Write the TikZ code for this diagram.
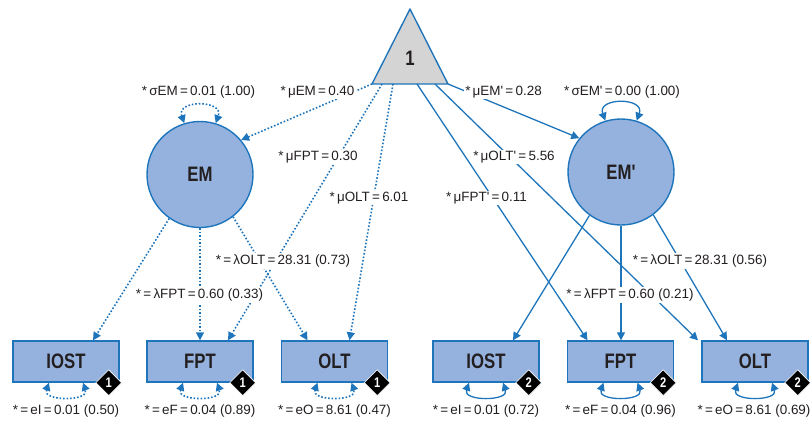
\documentclass[tikz,border=0pt]{standalone}
\usepackage{fontspec}
\setmainfont{Liberation Sans}[Ligatures=TeXOff]
\newfontfamily\headfont{Liberation Sans}[FakeStretch=0.8,Ligatures=TeXOff]
\usetikzlibrary{arrows.meta,shapes.geometric}

\definecolor{semblue}{RGB}{30,117,187}
\definecolor{semfill}{RGB}{149,178,222}
\definecolor{trigray}{RGB}{212,212,212}
\definecolor{txt}{RGB}{35,31,32}

\tikzset{
  latent/.style={circle, draw=semblue, line width=1.4bp, fill=semfill,
    minimum size=106bp, inner sep=0pt, text=txt,
    font=\headfont\bfseries\fontsize{21}{21}\selectfont},
  obsbox/.style={rectangle, draw=semblue, line width=1.4bp, fill=semfill,
    minimum width=106bp, minimum height=41bp, inner sep=0pt, text=txt,
    font=\headfont\bfseries\fontsize{21}{21}\selectfont},
  badge/.style={diamond, fill=black, draw=white, line width=0.6bp,
    minimum size=26bp, inner sep=0pt, text=white,
    font=\headfont\bfseries\fontsize{14}{14}\selectfont},
  lab/.style={fill=white, inner sep=1.5bp, text=txt,
    font=\fontsize{13.5}{14}\selectfont},
  tip/.tip={Triangle[length=8bp,width=8bp]},
  solarr/.style={draw=semblue, line width=1.3bp, -tip},
  dotarr/.style={solarr, line width=1.6bp, dash pattern=on 1.6bp off 1.9bp},
  solloop/.style={draw=semblue, line width=1.3bp, tip-tip},
  dotloop/.style={solloop, line width=1.6bp, dash pattern=on 1.6bp off 1.9bp}
}

\begin{document}
\begin{tikzpicture}[x=1bp,y=1bp]
\useasboundingbox (0,0) rectangle (810,-425);

% constant (mean structure) triangle
\coordinate (ta) at (410,-9);
\coordinate (tl) at (372,-84);
\coordinate (tr) at (448,-84);
\draw[semblue, line width=1.4bp, fill=trigray, line join=round] (ta) -- (tr) -- (tl) -- cycle;
\node[text=txt, font=\headfont\bfseries\fontsize{21}{21}\selectfont] (one) at (410,-58) {1};
\coordinate (b1) at (382,-84);
\coordinate (b2) at (393,-84);
\coordinate (b3) at (417,-84);
\coordinate (b4) at (435,-84);

% latent factors
\node[latent] (EM)  at (200,-174.5) {EM};
\node[latent] (EMp) at (621,-172) {EM'};

% indicators, group 1 and group 2
\node[obsbox] (IOST1) at (66,-361.5)  {IOST};
\node[obsbox] (FPT1)  at (200,-361.5) {FPT};
\node[obsbox] (OLT1)  at (334.5,-361.5) {OLT};
\node[obsbox] (IOST2) at (486,-361.5) {IOST};
\node[obsbox] (FPT2)  at (620.5,-361.5) {FPT};
\node[obsbox] (OLT2)  at (755,-361.5) {OLT};

% group markers
\node[badge] (d1) at ([xshift=-11bp]IOST1.south east) {1};
\node[badge] (d2) at ([xshift=-11bp]FPT1.south east) {1};
\node[badge] (d3) at ([xshift=-11bp]OLT1.south east) {1};
\node[badge] (d4) at ([xshift=-11bp]IOST2.south east) {2};
\node[badge] (d5) at ([xshift=-11bp]FPT2.south east) {2};
\node[badge] (d6) at ([xshift=-11bp]OLT2.south east) {2};

% group 1 paths (dotted)
\draw[dotarr] (tl) -- (EM.40);
\draw[dotarr] (b1) -- ([xshift=28bp]FPT1.north);
\draw[dotarr] (b2) -- ([xshift=15bp]OLT1.north);
\draw[dotarr] (EM.235) -- ([xshift=27bp]IOST1.north);
\draw[dotarr] (EM.south) -- (EM.south |- FPT1.north);
\draw[dotarr] (EM.-52) -- ([xshift=-27bp]OLT1.north);

% group 2 paths (solid)
\draw[solarr] (tr) -- (EMp.141);
\draw[solarr] (b3) -- ([xshift=-33bp]FPT2.north);
\draw[solarr] (b4) -- ([xshift=-57bp]OLT2.north);
\draw[solarr] (EMp.234) -- ([xshift=27bp]IOST2.north);
\draw[solarr] (EMp.south) -- (EMp.south |- FPT2.north);
\draw[solarr] (EMp.-53) -- ([xshift=-28bp]OLT2.north);

% variances
\draw[dotloop] (EM.107) .. controls +(110:25) and +(70:25) .. (EM.73);
\draw[solloop] (EMp.107) .. controls +(110:25) and +(70:25) .. (EMp.73);
\foreach \b in {IOST1,FPT1,OLT1}{
  \draw[dotloop] ([xshift=-17bp]\b.south) .. controls +(-110:20) and +(-70:20) .. ([xshift=17bp]\b.south);
}
\foreach \b in {IOST2,FPT2,OLT2}{
  \draw[solloop] ([xshift=-17bp]\b.south) .. controls +(-110:20) and +(-70:20) .. ([xshift=17bp]\b.south);
}

% parameter labels
\node[lab] (sEM)  at (198.5,-92) {*\,σEM\,=\,0.01 (1.00)};
\node[lab] (mEM)  at (317.5,-92) {*\,μEM\,=\,0.40};
\node[lab] (mEMp) at (503.5,-92) {*\,μEM'\,=\,0.28};
\node[lab] (sEMp) at (622,-92)   {*\,σEM'\,=\,0.00 (1.00)};
\node[lab] (mFPT) at (318,-157)  {*\,μFPT\,=\,0.30};
\node[lab] (mOLT) at (369,-198)  {*\,μOLT\,=\,6.01};
\node[lab] (mOLTp) at (514,-157) {*\,μOLT'\,=\,5.56};
\node[lab] (mFPTp) at (486.5,-198) {*\,μFPT'\,=\,0.11};
\node[lab] (lOLT1) at (283,-261) {*\,=\,λOLT\,=\,28.31 (0.73)};
\node[lab] (lFPT1) at (199.5,-295) {*\,=\,λFPT\,=\,0.60 (0.33)};
\node[lab] (lOLT2) at (700,-261) {*\,=\,λOLT\,=\,28.31 (0.56)};
\node[lab] (lFPT2) at (630,-295) {*\,=\,λFPT\,=\,0.60 (0.21)};

% residual labels
\node[lab] (eI1) at (66,-411)    {*\,=\,eI\,=\,0.01 (0.50)};
\node[lab] (eF1) at (200,-411)   {*\,=\,eF\,=\,0.04 (0.89)};
\node[lab] (eO1) at (334.5,-411) {*\,=\,eO\,=\,8.61 (0.47)};
\node[lab] (eI2) at (486,-411)   {*\,=\,eI\,=\,0.01 (0.72)};
\node[lab] (eF2) at (620.5,-411) {*\,=\,eF\,=\,0.04 (0.96)};
\node[lab] (eO2) at (754,-411)   {*\,=\,eO\,=\,8.61 (0.69)};
\end{tikzpicture}
\end{document}
